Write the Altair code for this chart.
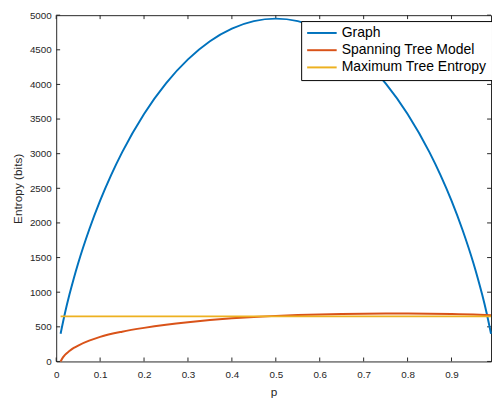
import altair as alt
import pandas as pd

# ---- data ----
series_names = ["Graph", "Spanning Tree Model", "Maximum Tree Entropy"]
series_colors = ["#0072BD", "#D95319", "#EDB120"]

p_graph = [0.01, 0.02, 0.03, 0.04, 0.05, 0.075, 0.1, 0.125, 0.15, 0.2, 0.25, 0.3,
           0.35, 0.4, 0.45, 0.5, 0.55, 0.6, 0.65, 0.7, 0.75, 0.8, 0.85, 0.875,
           0.9, 0.925, 0.95, 0.96, 0.97, 0.98, 0.99]
h_graph = [400, 700, 962, 1199, 1418, 1902, 2322, 2691, 3019, 3574, 4016, 4362,
           4624, 4806, 4914, 4950, 4914, 4806, 4624, 4362, 4016, 3574, 3019, 2691,
           2322, 1902, 1418, 1199, 962, 700, 400]

p_tree = [0.01, 0.015, 0.02, 0.03, 0.04, 0.05, 0.075, 0.1, 0.15, 0.2, 0.25, 0.3,
          0.35, 0.4, 0.45, 0.5, 0.55, 0.6, 0.65, 0.7, 0.75, 0.8, 0.85, 0.9,
          0.95, 0.99]
h_tree = [0, 55, 95, 150, 195, 230, 300, 355, 430, 485, 530, 567,
          598, 623, 643, 658, 670, 679, 685, 689, 691, 691, 689, 685,
          678, 668]

p_max = [0.01, 0.99]
h_max = [651, 651]

x_ticks = [0, 0.1, 0.2, 0.3, 0.4, 0.5, 0.6, 0.7, 0.8, 0.9]
y_ticks = [0, 500, 1000, 1500, 2000, 2500, 3000, 3500, 4000, 4500, 5000]

W, H = 442, 352
AX = "#262626"

df_graph = pd.DataFrame({"p": p_graph, "h": h_graph, "series": series_names[0]})
df_tree = pd.DataFrame({"p": p_tree, "h": h_tree, "series": series_names[1]})
df_max = pd.DataFrame({"p": p_max, "h": h_max, "series": series_names[2]})
df_xt = pd.DataFrame({"p": x_ticks})
df_yt = pd.DataFrame({"h": y_ticks})

xscale = alt.Scale(domain=[0, 0.99], nice=False, zero=False)
yscale = alt.Scale(domain=[0, 5000], nice=False, zero=False)
xaxis = alt.Axis(values=x_ticks, title="p", format="~g", labelFlush=False,
                 labelPadding=8, titlePadding=8)
yaxis = alt.Axis(values=y_ticks, title="Entropy (bits)", format="d",
                 labelPadding=5, titlePadding=5)

color = alt.Color(
    "series:N",
    scale=alt.Scale(domain=series_names, range=series_colors),
    sort=series_names,
    legend=alt.Legend(
        title=None,
        orient="none",
        legendX=249,
        legendY=6,
        symbolType="M-1.2,0H4.8",
        symbolSize=100,
        symbolStrokeWidth=2,
        labelFontSize=14.2,
        labelFont="Liberation Sans",
        labelColor="#000000",
        labelOffset=22,
        rowPadding=2.5,
        padding=5,
        strokeColor="#000000",
        fillColor="#ffffff",
    ),
)


def line(df):
    return alt.Chart(df).mark_line(strokeWidth=2, interpolate="monotone").encode(
        x=alt.X("p:Q", scale=xscale, axis=xaxis),
        y=alt.Y("h:Q", scale=yscale, axis=yaxis),
        color=color,
    )


xt_bottom = alt.Chart(df_xt).mark_rule(color=AX, strokeWidth=1).encode(
    x=alt.X("p:Q", scale=xscale, axis=xaxis), y=alt.value(H), y2=alt.value(H - 4))
xt_top = alt.Chart(df_xt).mark_rule(color=AX, strokeWidth=1).encode(
    x=alt.X("p:Q", scale=xscale, axis=xaxis), y=alt.value(0), y2=alt.value(4))
yt_left = alt.Chart(df_yt).mark_rule(color=AX, strokeWidth=1).encode(
    y=alt.Y("h:Q", scale=yscale, axis=yaxis), x=alt.value(0), x2=alt.value(4))
yt_right = alt.Chart(df_yt).mark_rule(color=AX, strokeWidth=1).encode(
    y=alt.Y("h:Q", scale=yscale, axis=yaxis), x=alt.value(W), x2=alt.value(W - 4))

chart = alt.layer(
    xt_bottom, xt_top, yt_left, yt_right,
    line(df_graph), line(df_tree), line(df_max),
).properties(
    width=W,
    height=H,
    autosize=alt.AutoSizeParams(type="none"),
    padding={"left": 49, "top": 4, "right": 1, "bottom": 42},
).configure_view(
    stroke=AX, strokeWidth=1
).configure_axis(
    domain=False,
    ticks=False,
    grid=False,
    labelFont="Liberation Sans",
    labelFontSize=10,
    labelColor=AX,
    titleFont="Liberation Sans",
    titleFontSize=12,
    titleFontWeight="normal",
    titleColor=AX,
)

chart.save("out.html", embed_options={"renderer": "svg", "actions": False})
